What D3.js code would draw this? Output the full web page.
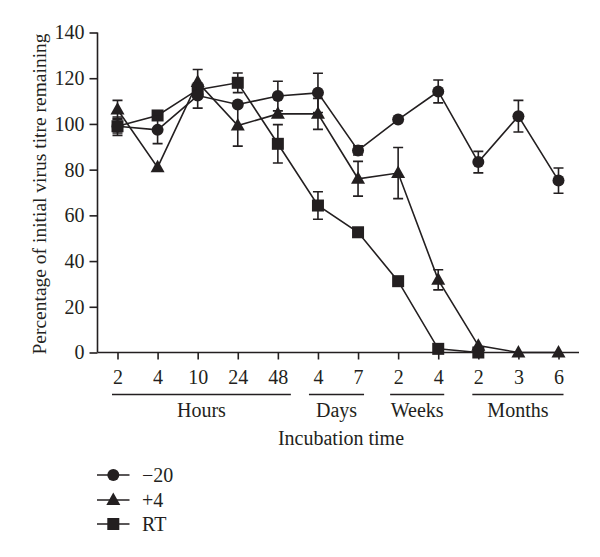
<!DOCTYPE html>
<html><head><meta charset="utf-8">
<script src="https://cdn.jsdelivr.net/npm/d3@7"></script>
<style>body{margin:0;background:#fff}svg{display:block}text{font-family:"Liberation Serif","Times New Roman",serif;fill:#231f20}</style>
</head><body>
<script>
const tickLabels = ["2","4","10","24","48","4","7","2","4","2","3","6"];
const groups = [
  {name:"Hours", from:0, to:4},
  {name:"Days", from:5, to:6},
  {name:"Weeks", from:7, to:8},
  {name:"Months", from:9, to:11}
];
const seriesNames = ["\u221220","+4","RT"];
const minus20 = [99, 97.4, 112.4, 108.5, 112.2, 113.6, 88.4, 101.9, 114.2, 83.3, 103.4, 75.2];
const minus20Err = [3, 6, 5.5, 0, 6.5, 8.6, 2, 0, 5, 4.7, 6.9, 5.5];
const plus4 = [106.3, 81, 118.3, 99.3, 104.4, 104.4, 76, 78.5, 31.8, 3, 0, 0];
const plus4Err = [4, 0, 5.5, 9, 0, 6.8, 7.6, 11.2, 4.4, 0, 0, 0];
const rt = [99, 103.7, 115, 118, 91.3, 64.3, 52.6, 31.2, 1.6, 0, null, null];
const rtErr = [4, 0, 0, 4.3, 8.4, 6, 0, 1.5, 0, 0, 0, 0];
const yTicks = [0,20,40,60,80,100,120,140];

const W=600,H=557;
const svg=d3.select("body").append("svg").attr("width",W).attr("height",H);
const x=d3.scalePoint().domain(d3.range(tickLabels.length)).range([117.5,558.5]);
const y=d3.scaleLinear().domain([0,140]).range([352.5,32.5]);
const ink="#231f20";
const FS=20;

// axes
const yAxis=svg.append("g").attr("transform","translate(97.5,0)")
  .call(d3.axisLeft(y).tickValues(yTicks).tickSize(8).tickPadding(5));
yAxis.select(".domain").attr("d","M0,"+y(140)+"V"+y(0));
const xAxis=svg.append("g").attr("transform","translate(0,352.5)")
  .call(d3.axisBottom(x).tickSize(7).tickPadding(7).tickFormat(i=>tickLabels[i]));
xAxis.select(".domain").attr("d","M97.5,0H579");
svg.selectAll(".tick line,.domain").attr("stroke",ink).attr("stroke-width",1.6);
svg.selectAll(".tick text").attr("font-size",FS).attr("fill",ink)
  .attr("font-family",'"Liberation Serif",serif');
xAxis.selectAll(".tick text").attr("dy","0.85em");

// group underlines (left/right overhang in px)
const overhang=[[5.5,13],[9,6],[8,6],[6,5]];
groups.forEach((g,k)=>{
  const x0=x(g.from)-overhang[k][0], x1=x(g.to)+overhang[k][1];
  svg.append("line").attr("x1",x0).attr("x2",x1).attr("y1",394.5).attr("y2",394.5)
    .attr("stroke",ink).attr("stroke-width",1.6);
  svg.append("text").attr("x",(x0+x1)/2).attr("y",417).attr("text-anchor","middle")
    .attr("font-size",FS).text(g.name);
});
svg.append("text").attr("x",341).attr("y",445).attr("text-anchor","middle").attr("font-size",FS).text("Incubation time");
svg.append("text").attr("transform","translate(46,194) rotate(-90)").attr("text-anchor","middle")
  .attr("font-size",19.5).text("Percentage of initial virus titre remaining");

const series=[
  {vals:rt, err:rtErr, shape:"square"},
  {vals:plus4, err:plus4Err, shape:"triangle"},
  {vals:minus20, err:minus20Err, shape:"circle"}
];
function marker(g,shape,cx,cy){
  if(shape==="circle") g.append("circle").attr("cx",cx).attr("cy",cy).attr("r",6).attr("fill",ink);
  else if(shape==="square") g.append("rect").attr("x",cx-6).attr("y",cy-6).attr("width",12).attr("height",12).attr("fill",ink);
  else g.append("path").attr("d",`M${cx},${cy-7.5}L${cx+7},${cy+5}L${cx-7},${cy+5}Z`).attr("fill",ink);
}
series.forEach(s=>{
  const g=svg.append("g");
  g.append("path").attr("d",d3.line().defined(d=>d[1]!=null).x(d=>x(d[0])).y(d=>y(d[1]))(s.vals.map((v,i)=>[i,v])))
    .attr("fill","none").attr("stroke",ink).attr("stroke-width",1.6);
  s.vals.forEach((v,i)=>{
    if(v==null) return;
    const e=s.err[i];
    if(e>0){
      g.append("path").attr("d",`M${x(i)},${y(v+e)}V${y(Math.max(0,v-e))}M${x(i)-5},${y(v+e)}h10M${x(i)-5},${y(Math.max(0,v-e))}h10`)
        .attr("stroke",ink).attr("stroke-width",1.6).attr("fill","none");
    }
    marker(g,s.shape,x(i),y(v));
  });
});

// legend
const leg=[{n:seriesNames[0],s:"circle",y:475},{n:seriesNames[1],s:"triangle",y:500},{n:seriesNames[2],s:"square",y:524}];
leg.forEach(l=>{
  const g=svg.append("g");
  g.append("line").attr("x1",97).attr("x2",129.5).attr("y1",l.y).attr("y2",l.y).attr("stroke",ink).attr("stroke-width",1.6);
  marker(g,l.s,113.3,l.y);
  svg.append("text").attr("x",142).attr("y",l.y+6.5).attr("font-size",FS).text(l.n);
});
</script>
</body></html>
